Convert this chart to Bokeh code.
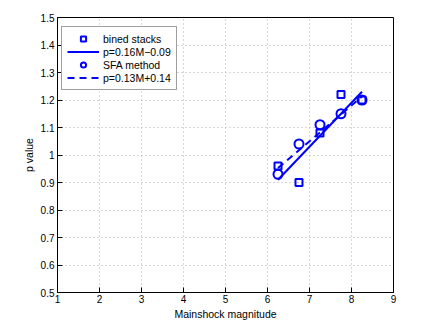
from bokeh.plotting import figure
from bokeh.models import FixedTicker, Legend, LegendItem
from bokeh.embed import file_html
from bokeh.resources import INLINE

# data
mag = [6.25, 6.75, 7.25, 7.75, 8.25]
p_stacks = [0.96, 0.90, 1.08, 1.22, 1.20]
p_sfa = [0.93, 1.04, 1.11, 1.15, 1.20]
fit_x = [6.25, 8.25]
fit1_slope, fit1_icpt = 0.16, -0.09
fit2_slope, fit2_icpt = 0.13, 0.14
x_ticks = [1, 2, 3, 4, 5, 6, 7, 8, 9]
y_ticks = [0.5, 0.6, 0.7, 0.8, 0.9, 1.0, 1.1, 1.2, 1.3, 1.4, 1.5]
y_tick_labels = ["0.5", "0.6", "0.7", "0.8", "0.9", "1", "1.1", "1.2", "1.3", "1.4", "1.5"]
labels = ["bined stacks", "p=0.16M\u22120.09", "SFA method", "p=0.13M+0.14"]

fit1_y = [fit1_slope * m + fit1_icpt for m in fit_x]
fit2_y = [fit2_slope * m + fit2_icpt for m in fit_x]

FONT = "Liberation Sans"
BLUE = "#0000ff"

p = figure(width=428, height=324, x_range=(1, 9), y_range=(0.5, 1.5),
           output_backend="svg", toolbar_location=None,
           min_border_left=57, min_border_right=35, min_border_top=17, min_border_bottom=32)

p.outline_line_color = "black"
p.outline_line_width = 1
p.background_fill_color = "white"
p.border_fill_color = "white"

for ax in (p.xaxis[0], p.yaxis[0]):
    ax.major_tick_in = 5
    ax.major_tick_out = 0
    ax.minor_tick_in = 0
    ax.minor_tick_out = 0
    ax.axis_line_color = "black"
    ax.major_label_text_font = FONT
    ax.major_label_text_font_size = "10px"
    ax.major_label_text_color = "black"
    ax.axis_label_text_font = FONT
    ax.axis_label_text_font_size = "10.5px"
    ax.axis_label_text_font_style = "normal"
    ax.axis_label_text_color = "black"

p.xaxis.major_label_standoff = 2
p.yaxis.major_label_standoff = 3
p.xaxis.ticker = FixedTicker(ticks=x_ticks)
p.yaxis.ticker = FixedTicker(ticks=y_ticks)
p.yaxis.major_label_overrides = {t: l for t, l in zip(y_ticks, y_tick_labels)}
p.xaxis.axis_label = "Mainshock magnitude"
p.yaxis.axis_label = "p value"
p.xaxis.axis_label_standoff = 2
p.yaxis.axis_label_standoff = 3

p.xgrid.ticker = FixedTicker(ticks=x_ticks)
p.ygrid.ticker = FixedTicker(ticks=y_ticks)
for g in (p.xgrid[0], p.ygrid[0]):
    g.grid_line_color = "#b0b0b0"
    g.grid_line_dash = "1 3"
    g.grid_line_width = 1

r1 = p.scatter(mag, p_stacks, marker="square", size=7, fill_color=None,
               line_color=BLUE, line_width=2)
r2 = p.line(fit_x, fit1_y, line_color=BLUE, line_width=2)
r3 = p.scatter(mag, p_sfa, marker="circle", size=9, fill_color=None,
               line_color=BLUE, line_width=2)
r4 = p.line(fit_x, fit2_y, line_color=BLUE, line_width=2, line_dash="7 5")

legend = Legend(items=[LegendItem(label=labels[0], renderers=[r1]),
                       LegendItem(label=labels[1], renderers=[r2]),
                       LegendItem(label=labels[2], renderers=[r3]),
                       LegendItem(label=labels[3], renderers=[r4])],
                location=(4, 202))
legend.label_text_font = FONT
legend.label_text_font_size = "10.5px"
legend.label_text_color = "black"
legend.glyph_width = 32
legend.glyph_height = 13
legend.label_height = 13
legend.label_standoff = 4
legend.spacing = 0
legend.padding = 5
legend.margin = 0
legend.border_line_color = "#404040"
legend.border_line_width = 1
legend.background_fill_color = "white"
legend.background_fill_alpha = 1
p.add_layout(legend)

open("out.html", "w").write(file_html(p, INLINE))
